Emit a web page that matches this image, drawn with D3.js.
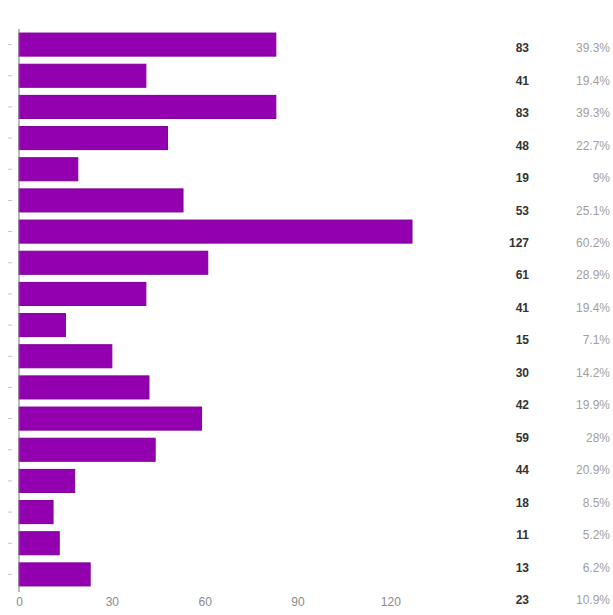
<!DOCTYPE html>
<html>
<head>
<meta charset="utf-8">
<script src="https://cdn.jsdelivr.net/npm/d3@7/dist/d3.min.js"></script>
<style>
  html, body { margin: 0; padding: 0; background: #ffffff; }
  svg { display: block; }
</style>
</head>
<body>
<svg id="chart" width="613" height="615"></svg>
<script>
const categories = ["1","2","3","4","5","6","7","8","9","10","11","12","13","14","15","16","17","18"];
const counts = [83, 41, 83, 48, 19, 53, 127, 61, 41, 15, 30, 42, 59, 44, 18, 11, 13, 23];
const percents = ["39.3%","19.4%","39.3%","22.7%","9%","25.1%","60.2%","28.9%","19.4%","7.1%","14.2%","19.9%","28%","20.9%","8.5%","5.2%","6.2%","10.9%"];
const xTicks = [0, 30, 60, 90, 120];

const svg = d3.select("#chart");

const x = d3.scaleLinear().domain([0, 127]).range([19, 412]);
const y = d3.scaleBand().domain(categories).range([29, 590]).paddingInner(0.26).paddingOuter(0.13);
const rowY = d3.scalePoint().domain(categories).range([48, 600]);

// small left ticks
svg.append("g").selectAll("line").data(categories).join("line")
  .attr("x1", 8).attr("x2", 12)
  .attr("y1", d => y(d) + y.bandwidth() / 2)
  .attr("y2", d => y(d) + y.bandwidth() / 2)
  .attr("stroke", "#c4c4c4").attr("stroke-width", 1);

// bars
svg.append("g").selectAll("rect").data(categories).join("rect")
  .attr("x", x(0))
  .attr("y", d => y(d))
  .attr("width", (d, i) => x(counts[i]) - x(0))
  .attr("height", y.bandwidth())
  .attr("fill", "#9300b0")
  .attr("stroke", "#7e0094")
  .attr("stroke-width", 1);

// vertical axis line
svg.append("line")
  .attr("x1", x(0)).attr("x2", x(0))
  .attr("y1", 29).attr("y2", 592)
  .attr("stroke", "#777").attr("stroke-width", 1);

// x axis labels
const xAxis = d3.axisBottom(x).tickValues(xTicks).tickSize(0).tickPadding(0);
const gx = svg.append("g").attr("transform", "translate(0,597)").call(xAxis);
gx.select(".domain").remove();
gx.selectAll("text")
  .attr("fill", "#8a8a8a")
  .style("font-family", "Arial, 'Liberation Sans', sans-serif")
  .style("font-size", "12px")
  .attr("dy", "0.71em");

// counts column
svg.append("g").selectAll("text").data(categories).join("text")
  .attr("x", 529)
  .attr("y", d => rowY(d))
  .attr("dy", "0.35em")
  .attr("text-anchor", "end")
  .attr("fill", "#333")
  .style("font-family", "Arial, 'Liberation Sans', sans-serif")
  .style("font-size", "12px")
  .style("font-weight", "bold")
  .text((d, i) => counts[i]);

// percent column
svg.append("g").selectAll("text").data(categories).join("text")
  .attr("x", 610)
  .attr("y", d => rowY(d))
  .attr("dy", "0.35em")
  .attr("text-anchor", "end")
  .attr("fill", "#a0a0a0")
  .style("font-family", "Arial, 'Liberation Sans', sans-serif")
  .style("font-size", "12px")
  .text((d, i) => percents[i]);
</script>
</body>
</html>
